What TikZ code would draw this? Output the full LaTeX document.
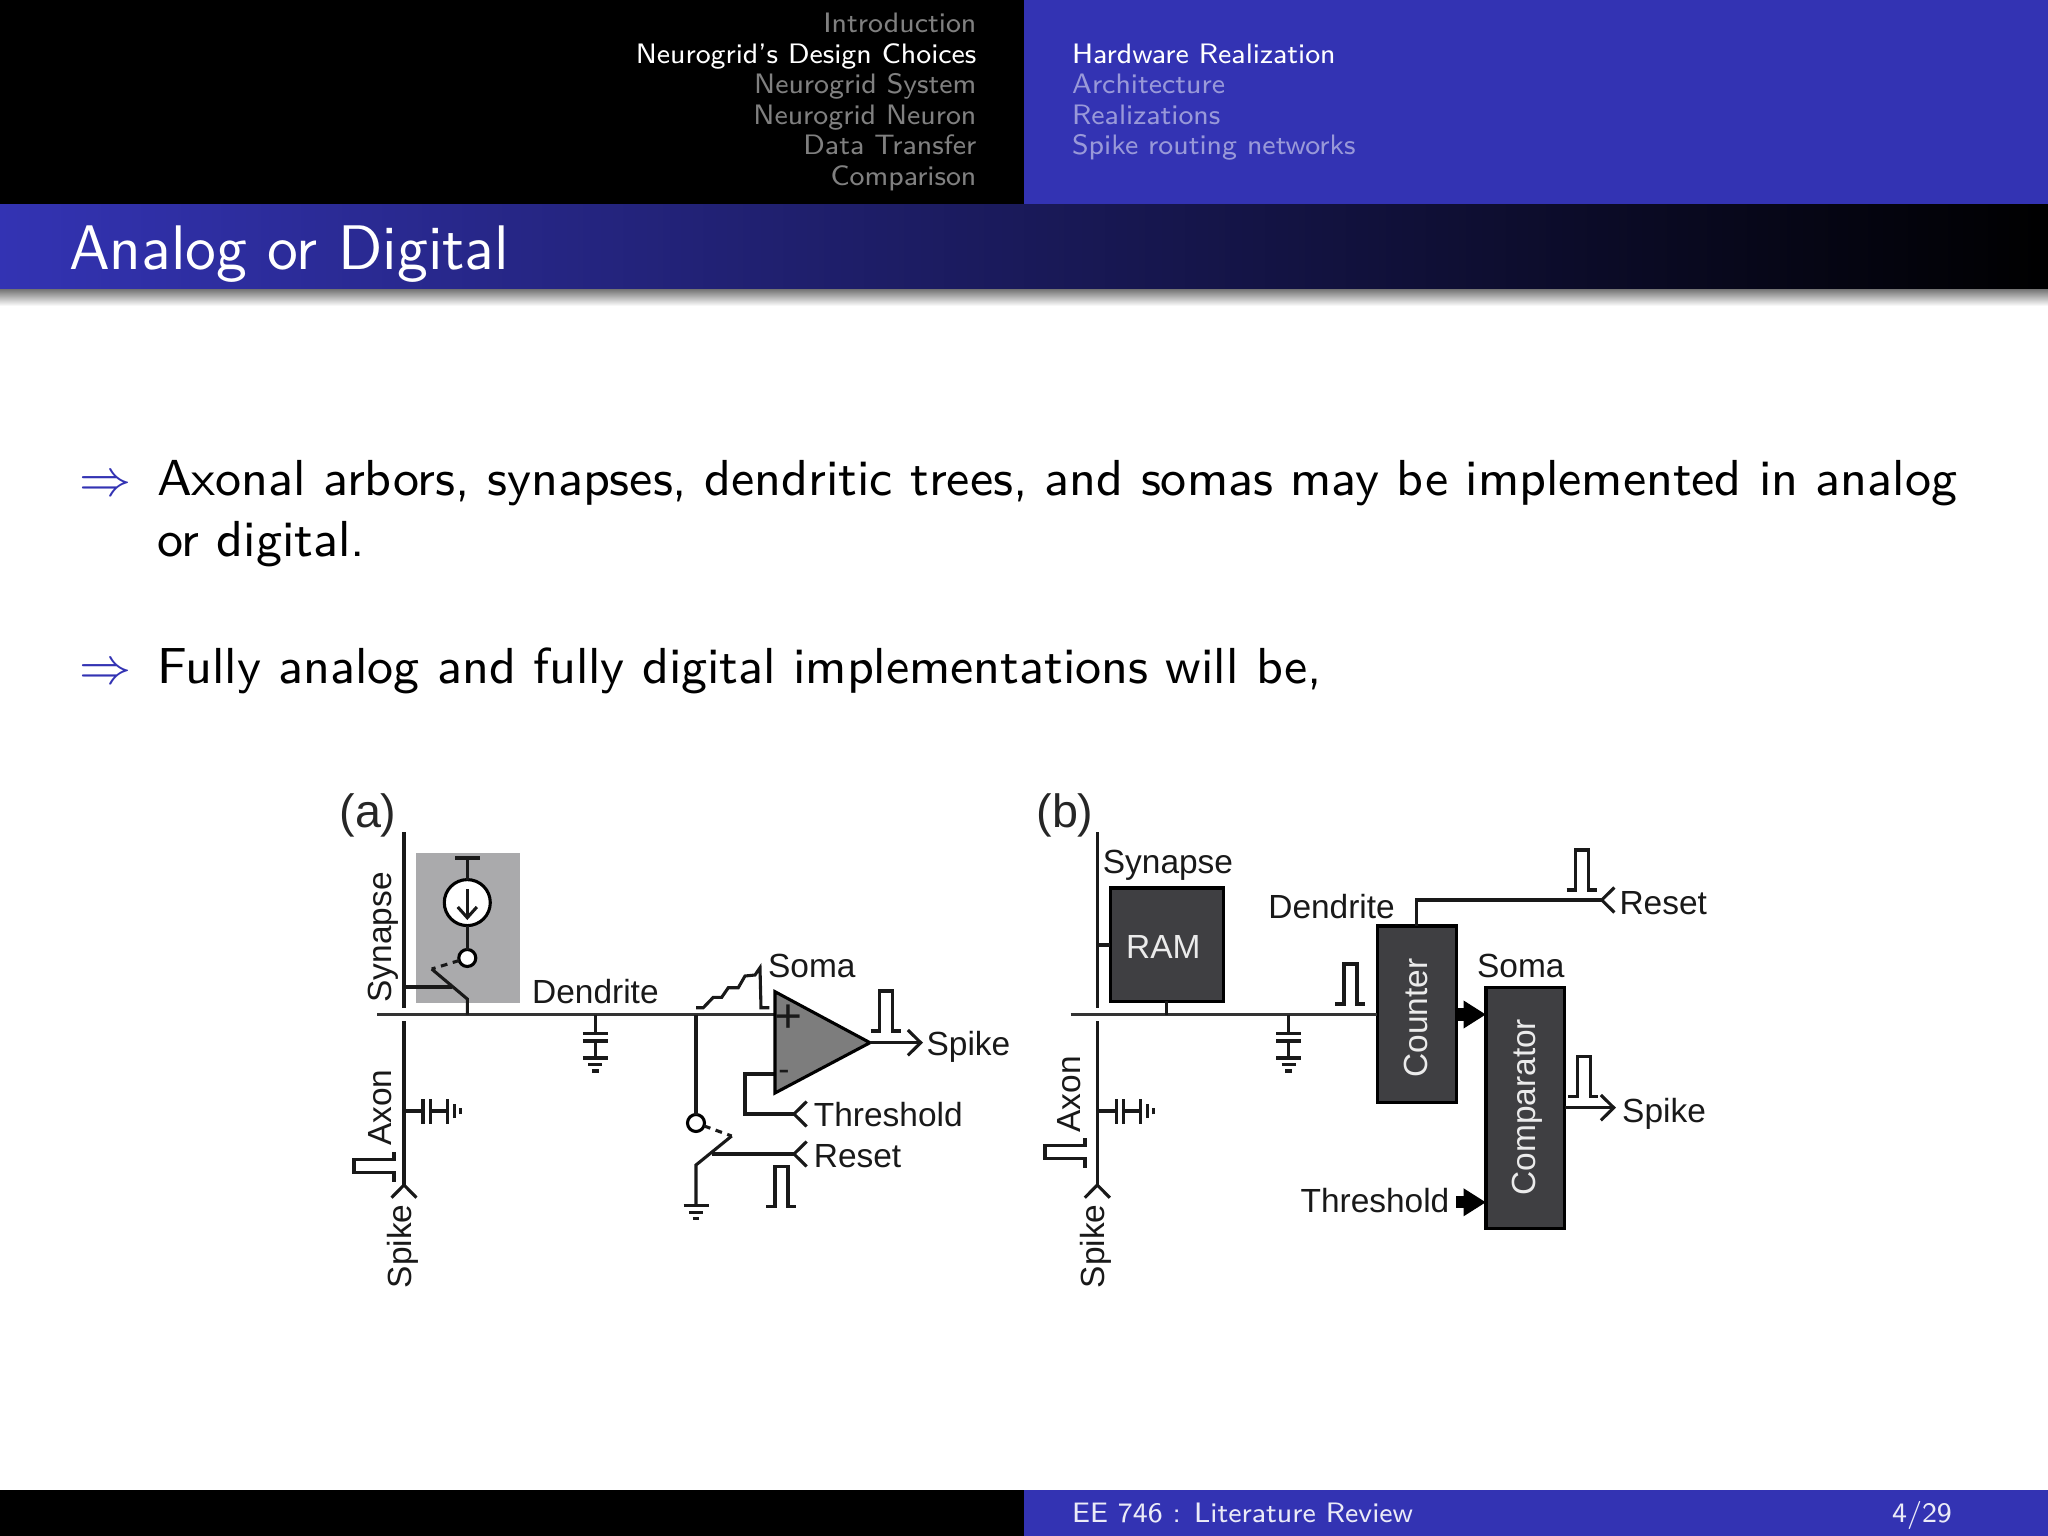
\documentclass[tikz,border=0pt]{standalone}
\usepackage{fontspec}
\usepackage{xcolor}
\usepackage{tikz}
\usetikzlibrary{arrows.meta}
\newfontfamily\figfont{Liberation Sans}
\definecolor{slideblue}{RGB}{51,51,179}
\definecolor{dimblue}{RGB}{153,153,217}
\definecolor{blockgray}{RGB}{63,63,66}
\definecolor{ampgray}{RGB}{125,125,125}
\definecolor{panelgray}{RGB}{170,170,172}
\def\u{0.0625mm}

\begin{document}
\begin{tikzpicture}[x=\u,y=-\u]
\tikzset{
  wire/.style={line width=0.55pt,color=black!90},
  dendwire/.style={line width=0.5pt,color=black!80},
  chevout/.style={wire,-{Straight Barb[length=2.3pt,width=4.5pt]}},
  boldarrow/.style={line width=2.2pt,-{Triangle[length=4pt,width=4.7pt]}},
  chev/.pic={\draw[wire] (-12.7,-12.5) -- (0,0) -- (-12.7,12.5);},
  pulse/.pic={\draw[wire] (0,0) -- (9,0) -- (9,-40) -- (22,-40) -- (22,0) -- (30,0);},
  gnd/.pic={
    \draw[wire] (-12.5,0) -- (12.5,0);
    \draw[wire] (-7,6.7) -- (7,6.7);
    \draw[wire] (-3.3,13) -- (3.3,13);},
  capgnd/.pic={
    \draw[wire] (0,0) -- (0,19);
    \draw[wire] (-12.5,19) -- (12.5,19);
    \draw[wire] (-12.5,26.5) -- (12.5,26.5);
    \draw[wire] (0,26.5) -- (0,43.5);
    \draw[wire] (-12.5,43.5) -- (12.5,43.5);
    \draw[wire] (-7,50.2) -- (7,50.2);
    \draw[wire] (-3.3,56.5) -- (3.3,56.5);},
  lab/.style={font=\figfont\fontsize{5.95}{7}\selectfont,inner sep=0pt,outer sep=0pt,text=black!90,yshift=-0.22pt,xshift=-0.2pt},
  panellab/.style={font=\figfont\fontsize{8.3}{10}\selectfont,inner sep=0pt,text=black!85},
  block/.style={draw=black,line width=0.55pt,fill=blockgray,inner sep=0pt,outer sep=0pt},
  hollow/.style={circle,draw=black,line width=0.55pt,fill=white,inner sep=0pt,outer sep=0pt},
  bodytext/.style={font=\sffamily\fontsize{9}{11}\selectfont,inner sep=0pt,anchor=base west},
  bodyarrow/.style={font=\fontsize{9}{11}\selectfont,inner sep=0pt,anchor=base west,text=slideblue},
  headtext/.style={font=\sffamily\fontsize{5}{6}\selectfont,inner sep=0pt},
  foottext/.style={font=\sffamily\fontsize{5}{6}\selectfont,inner sep=0pt,text=white!90!slideblue}
}
\useasboundingbox (0,0) rectangle (2048,1536);

\fill[black] (0,0) rectangle (1024,204);
\fill[slideblue] (1024,0) rectangle (2048,204);
\shade[left color=slideblue,right color=black] (0,204) rectangle (2048,289);
\shade[top color=black!55,bottom color=white] (0,289) rectangle (2048,306);
\fill[black] (0,1490) rectangle (1024,1536);
\fill[slideblue] (1024,1490) rectangle (2048,1536);

\foreach \txt/\yy/\cc [count=\i] in {Introduction/33/black!50!white,Neurogrid's Design Choices/63.5/white,Neurogrid System/94/black!50!white,Neurogrid Neuron/124.5/black!50!white,Data Transfer/155/black!50!white,Comparison/185.5/black!50!white}
  \node[headtext,anchor=base east,text=\cc](sec\i) at (977.5,\yy){\txt};
\foreach \txt/\yy/\cc [count=\i] in {Hardware Realization/63.5/white,Architecture/94/dimblue,Realizations/124.5/dimblue,Spike routing networks/155/dimblue}
  \node[headtext,anchor=base west,text=\cc](sub\i) at (1071,\yy){\txt};
\node[font=\sffamily\fontsize{11.2}{14}\selectfont,inner sep=0pt,anchor=base west,text=white](title) at (68,269){Analog or Digital};
\node[foottext,anchor=base west](footL) at (1071,1522){EE 746 : Literature Review};
\node[foottext,anchor=base east](footR) at (1953,1522){4/29};

\node[bodyarrow](arr1) at (78,495){$\Rightarrow$};
\node[bodytext](line1) at (156,495){Axonal arbors, synapses, dendritic trees, and somas may be implemented in analog};
\node[bodytext](line2) at (156,556.5){or digital.};
\node[bodyarrow](arr2) at (78,683){$\Rightarrow$};
\node[bodytext](line3) at (156,683){Fully analog and fully digital implementations will be,};

\node[panellab,anchor=base](labA) at (368,827){(a)};
\node[fill=panelgray,inner sep=0pt,minimum width=104*\u,minimum height=150*\u](panelA) at (468,928){};
\coordinate (axonTopA) at (404,832);
\coordinate (axonMidA) at (404,1008);
\coordinate (axonLowA) at (404,1021);
\coordinate (axonEndA) at (404,1185);
\coordinate (dendA) at (377,1014.5);
\coordinate (ampPlus) at (775,1014.5);
\coordinate (ampTop) at (775,991.7);
\coordinate (ampBot) at (775,1093);
\coordinate (ampOut) at (870,1042.7);
\coordinate (ampMinus) at (775,1074);
\coordinate (teeL) at (455,858);
\coordinate (teeR) at (480,858);
\coordinate (teeM) at (467.3,858);
\coordinate (armEnd) at (431.7,969);
\coordinate (armElbow) at (467.3,999);
\coordinate (armFoot) at (467.3,1014.5);
\coordinate (armStub) at (451.7,987);
\coordinate (axonStub) at (404,987);
\coordinate (branchTop) at (696,1014.5);
\coordinate (rstElbow) at (696,1165);
\coordinate (rstEnd) at (731.7,1136);
\coordinate (rstStub) at (711.7,1154);
\coordinate (rstGnd) at (696,1205.7);
\coordinate (rstTip) at (794,1154);
\coordinate (thrTip) at (794,1114);
\coordinate (spikeTip) at (923,1042.7);
\coordinate (arrowIn) at (467.3,889);
\coordinate (arrowOut) at (467.3,920);
\node[hollow,minimum size=46*\u](isrc) at (467.3,902.6){};
\node[hollow,minimum size=17*\u](swA) at (467.3,958){};
\node[hollow,minimum size=17*\u](swB) at (696,1123){};
\draw[wire] (axonTopA) -- (axonMidA);
\draw[wire] (axonLowA) -- (axonEndA);
\pic[rotate=90] at (axonEndA) {chev};
\draw[dendwire] (dendA) -- (ampPlus);
\draw[wire] (teeL) -- (teeR);
\draw[wire] (teeM) -- (isrc);
\draw[wire] (isrc) -- (swA);
\draw[wire,-{Straight Barb[length=1.9pt,width=3.4pt]}] (arrowIn) -- (arrowOut);
\draw[wire,dash pattern=on 1.2pt off 1pt] (swA) -- (armEnd);
\draw[wire] (armEnd) -- (armElbow) -- (armFoot);
\draw[wire] (axonStub) -- (armStub);
\pic at (595.3,1014.5) {capgnd};
\pic[rotate=90] at (404,1111) {capgnd};
\pic[rotate=90] at (394,1181.5) {pulse};
\draw[wire] (branchTop) -- (swB);
\draw[wire,dash pattern=on 1.2pt off 1pt] (swB) -- (rstEnd);
\draw[wire] (rstEnd) -- (rstElbow) -- (rstGnd);
\pic at (rstGnd) {gnd};
\draw[wire] (rstStub) -- (rstTip);
\pic[rotate=180] at (rstTip) {chev};
\draw[wire] (ampMinus) -| (745,1114) -- (thrTip);
\pic[rotate=180] at (thrTip) {chev};
\draw[draw=black,line width=0.55pt,fill=ampgray] (ampTop) -- (ampBot) -- (ampOut) -- cycle;
\draw[chevout] (ampOut) -- (spikeTip);
\draw[wire] (696,1007.7) -- (703.3,1007.7) -- (713.3,997.3) -- (721.7,997.3) -- (728.3,987.7) -- (738.3,987.7) -- (745,976) -- (755,975) -- (760,967.7) -- (761,1007.7) -- (769.3,1007.7);
\pic at (870.7,1031) {pulse};
\pic at (766,1206.7) {pulse};
\node[lab,font=\figfont\fontsize{8.5}{10}\selectfont](plus) at (789.3,1017.3){+};
\node[lab](minus) at (785,1074){-};
\node[lab,anchor=base,rotate=90](synA) at (392.3,936){Synapse};
\node[lab,anchor=base,rotate=90](axonA) at (392.3,1106.6){Axon};
\node[lab,anchor=base,rotate=90](spikeA) at (412.7,1245){Spike};
\node[lab,anchor=base west](dendLabA) at (533.3,1002){Dendrite};
\node[lab,anchor=base west](somaA) at (769.3,976){Soma};
\node[lab,anchor=base west](spikeOutA) at (927.7,1054){Spike};
\node[lab,anchor=base west](thrA) at (815,1125){Threshold};
\node[lab,anchor=base west](rstA) at (815,1166.7){Reset};

\node[panellab,anchor=base](labB) at (1065,827){(b)};
\coordinate (axonTopB) at (1097.3,832);
\coordinate (axonMidB) at (1097.3,1008);
\coordinate (axonLowB) at (1097.3,1021);
\coordinate (axonEndB) at (1097.3,1185);
\coordinate (dendB) at (1070.7,1014.5);
\coordinate (axonStubB) at (1097.3,945);
\coordinate (ramFoot) at (1166.7,1014.5);
\coordinate (rstTipB) at (1601.7,900);
\coordinate (spikeTipB) at (1616,1107.7);
\coordinate (thrStart) at (1456,1202.3);
\node[block,minimum width=113.3*\u,minimum height=113.4*\u](ram) at (1166.7,944.7){};
\node[block,minimum width=78.7*\u,minimum height=176.7*\u](counter) at (1416.7,1014.35){};
\node[block,minimum width=78.7*\u,minimum height=240.6*\u](comparator) at (1525.35,1108){};
\draw[wire] (axonTopB) -- (axonMidB);
\draw[wire] (axonLowB) -- (axonEndB);
\pic[rotate=90] at (axonEndB) {chev};
\draw[dendwire] (dendB) -- (counter.west |- dendB);
\draw[wire] (axonStubB) -- (ram.west |- axonStubB);
\draw[wire] (ram.south) -- (ramFoot);
\draw[wire] (counter.north) |- (rstTipB);
\pic[rotate=180] at (rstTipB) {chev};
\draw[chevout] (comparator.east |- spikeTipB) -- (spikeTipB);
\draw[boldarrow] (counter.east |- dendB) -- (comparator.west |- dendB);
\draw[boldarrow] (thrStart) -- (comparator.west |- thrStart);
\pic at (1288.7,1014.5) {capgnd};
\pic[rotate=90] at (1097.3,1111) {capgnd};
\pic[rotate=90] at (1085,1167.7) {pulse};
\pic at (1335,1004) {pulse};
\pic at (1566.7,890) {pulse};
\pic at (1568.3,1096.7) {pulse};
\node[lab,anchor=base,text=white!92!black](ramLabel) at (1164.5,957.7){RAM};
\node[lab,anchor=base,rotate=90,text=white!92!black](counterLabel) at (1428.3,1016.7){Counter};
\node[lab,anchor=base,rotate=90,text=white!92!black](compLabel) at (1536.7,1106){Comparator};
\node[lab,anchor=base west](synB) at (1104,872.6){Synapse};
\node[lab,anchor=base,rotate=90](axonB) at (1081.7,1093){Axon};
\node[lab,anchor=base,rotate=90](spikeB) at (1106,1245){Spike};
\node[lab,anchor=base west](dendLabB) at (1269.5,917){Dendrite};
\node[lab,anchor=base west](somaB) at (1478.3,976.7){Soma};
\node[lab,anchor=base west](spikeOutB) at (1623.3,1121.7){Spike};
\node[lab,anchor=base west](rstB) at (1620.7,913.3){Reset};
\node[lab,anchor=base west](thrB) at (1301.7,1211.7){Threshold};
\end{tikzpicture}
\end{document}
